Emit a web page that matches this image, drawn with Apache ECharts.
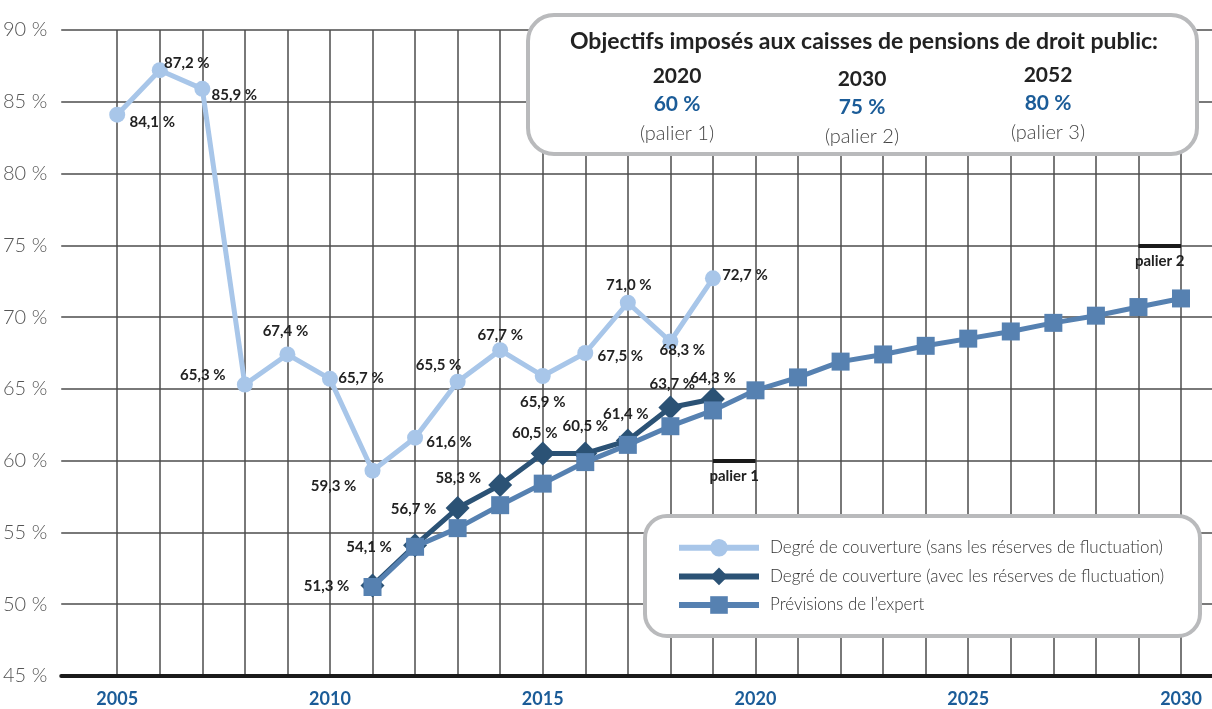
<!DOCTYPE html>
<html>
<head>
<meta charset="utf-8">
<script src="https://cdn.jsdelivr.net/npm/echarts@6/dist/echarts.min.js"></script>
<style>
html, body { margin: 0; padding: 0; background: #fff; }
#chart { width: 1212px; height: 709px; }
</style>
</head>
<body>
<div id="chart"></div>
<script>
// annees (une ligne verticale par annee)
const years = [2005, 2006, 2007, 2008, 2009, 2010, 2011, 2012, 2013, 2014, 2015, 2016, 2017,
  2018, 2019, 2020, 2021, 2022, 2023, 2024, 2025, 2026, 2027, 2028, 2029, 2030];
const xLabelYears = [2005, 2010, 2015, 2020, 2025, 2030];
const yTicks = [45, 50, 55, 60, 65, 70, 75, 80, 85, 90];

// 2005-2019
const sansReserves = [84.1, 87.2, 85.9, 65.3, 67.4, 65.7, 59.3, 61.6, 65.5, 67.7, 65.9, 67.5, 71.0, 68.3, 72.7];
// 2011-2019
const avecReserves = [51.3, 54.1, 56.7, 58.3, 60.5, 60.5, 61.4, 63.7, 64.3];
// 2011-2030
const previsions = [51.2, 54.0, 55.3, 56.9, 58.4, 59.9, 61.1, 62.4, 63.5, 64.9, 65.8, 66.9, 67.4,
  68.0, 68.5, 69.0, 69.6, 70.1, 70.7, 71.3];

const seriesNames = [
  'Degré de couverture (sans les réserves de fluctuation)',
  'Degré de couverture (avec les réserves de fluctuation)',
  'Prévisions de l\u2019expert'
];

// objectifs (encadre du haut)
const goalYears = ['2020', '2030', '2052'];
const goalValues = [60, 75, 80];
const goalSteps = ['(palier 1)', '(palier 2)', '(palier 3)'];
const palierYears = [2020, 2030];
const palierValues = [60, 75];
const palierNames = ['palier 1', 'palier 2'];

// decalage des etiquettes (px) par point
const sansOffsets = [[35, 7], [27, -7], [32, 6], [-42, -9], [-2, -23], [31, -1], [-39, 15], [34, 4],
  [-19, -17], [0, -15], [0, 26], [35, 3], [1, -18], [12, 9], [32, -3]];
const avecOffsets = [[-46, 1], [-46, 2], [-44, 1], [-42, -7], [-8, -20], [0, -27], [-2, -26], [2, -23], [0, -21]];

const FONT = 'Lato, "Open Sans", sans-serif';
const fmt = (v) => v.toFixed(1).replace('.', ',') + ' %';

const withLabels = (vals, firstYear, offsets) => vals.map((v, i) => ({
  value: [firstYear + i, v],
  label: { show: true, position: 'inside', offset: offsets[i], formatter: fmt(v) }
}));

const myChart = echarts.init(document.getElementById('chart'));

const goalCols = [677, 862, 1048];
const goalShift = [0, 3, -1];
const graphics = [
  { type: 'rect', z: 10, shape: { x: 528, y: 15, width: 669, height: 139, r: 26 },
    style: { fill: '#fff', stroke: '#b9babc', lineWidth: 4 } },
  { type: 'rect', z: 10, shape: { x: 645, y: 516, width: 555, height: 120, r: 22 },
    style: { fill: '#fff', stroke: '#b9babc', lineWidth: 4 } },
  { type: 'text', z: 11, x: 864, y: 42,
    style: { text: 'Objectifs imposés aux caisses de pensions de droit public:', textAlign: 'center',
      textVerticalAlign: 'middle', fontFamily: FONT, fontWeight: 'bold', fontSize: 23, fill: '#222' } }
];
goalYears.forEach((g, i) => {
  graphics.push(
    { type: 'text', z: 11, x: goalCols[i], y: 76 + goalShift[i],
      style: { text: g, textAlign: 'center', textVerticalAlign: 'middle', fontFamily: FONT,
        fontWeight: 'bold', fontSize: 21, fill: '#222' } },
    { type: 'text', z: 11, x: goalCols[i], y: 104 + goalShift[i],
      style: { text: goalValues[i] + ' %', textAlign: 'center', textVerticalAlign: 'middle', fontFamily: FONT,
        fontWeight: 'bold', fontSize: 21, fill: '#1b5c98' } },
    { type: 'text', z: 11, x: goalCols[i], y: 134 + goalShift[i],
      style: { text: goalSteps[i], textAlign: 'center', textVerticalAlign: 'middle', fontFamily: FONT,
        fontWeight: 300, fontSize: 20, fill: '#444' } }
  );
});

myChart.setOption({
  animation: false,
  backgroundColor: '#fff',
  grid: { left: 61, right: 0, top: 30, bottom: 33 },
  xAxis: {
    type: 'value',
    min: 2005 - 56 / 42.56,
    max: 2030 + 31 / 42.56,
    splitLine: { show: false },
    axisTick: { show: false },
    axisLine: { show: true, lineStyle: { color: '#1a1a1a', width: 4 } },
    axisLabel: {
      customValues: xLabelYears,
      formatter: (v) => String(v),
      margin: 14,
      color: '#1b5c98',
      fontFamily: FONT,
      fontWeight: 'bold',
      fontSize: 18
    }
  },
  yAxis: {
    type: 'value',
    min: yTicks[0],
    max: yTicks[yTicks.length - 1],
    interval: 5,
    axisLine: { show: false },
    axisTick: { show: false },
    splitLine: { lineStyle: { color: '#4d4d4d', width: 1.5 } },
    axisLabel: {
      formatter: '{value} %',
      margin: 14,
      color: '#555',
      fontFamily: FONT,
      fontWeight: 300,
      fontSize: 20
    }
  },
  legend: {
    orient: 'vertical',
    left: 676,
    top: 539,
    padding: 0,
    itemWidth: 80,
    itemHeight: 22,
    itemGap: 11,
    z: 20,
    lineStyle: { width: 6 },
    textStyle: { fontFamily: FONT, fontWeight: 300, fontSize: 17, color: '#333', padding: [0, 0, 0, 6] },
    data: seriesNames
  },
  graphic: graphics,
  series: [
    {
      // grille verticale
      type: 'line',
      z: 1,
      silent: true,
      data: [],
      markLine: {
        z: 0,
        silent: true,
        symbol: 'none',
        label: { show: false },
        lineStyle: { color: '#4d4d4d', width: 1.5, type: 'solid' },
        data: years.map((y) => ({ xAxis: y }))
      }
    },
    {
      name: seriesNames[0],
      type: 'line',
      z: 2,
      data: withLabels(sansReserves, 2005, sansOffsets),
      symbol: 'circle',
      symbolSize: 16,
      color: '#a8c6e9',
      lineStyle: { width: 5, color: '#a8c6e9' },
      itemStyle: { color: '#a8c6e9' },
      label: { color: '#222', fontFamily: FONT, fontWeight: 'bold', fontSize: 15 }
    },
    {
      name: seriesNames[1],
      type: 'line',
      z: 3,
      data: withLabels(avecReserves, 2011, avecOffsets),
      symbol: 'diamond',
      symbolSize: 24,
      color: '#2b5275',
      lineStyle: { width: 5, color: '#2b5275' },
      itemStyle: { color: '#2b5275' },
      label: { color: '#222', fontFamily: FONT, fontWeight: 'bold', fontSize: 15 }
    },
    {
      name: seriesNames[2],
      type: 'line',
      z: 4,
      data: previsions.map((v, i) => [2011 + i, v]),
      symbol: 'rect',
      symbolSize: 18,
      color: '#5681b1',
      lineStyle: { width: 5, color: '#5681b1' },
      itemStyle: { color: '#5681b1' },
      markLine: {
        silent: true,
        symbol: 'none',
        lineStyle: { color: '#1a1a1a', width: 4, type: 'solid' },
        label: {
          show: true,
          position: 'insideMiddleBottom',
          distance: 8,
          formatter: '{b}',
          color: '#222',
          fontFamily: FONT,
          fontWeight: 'bold',
          fontSize: 15
        },
        data: palierYears.map((y, i) => [
          { name: palierNames[i], coord: [y - 1, palierValues[i]] },
          { coord: [y, palierValues[i]] }
        ])
      }
    }
  ]
});
</script>
</body>
</html>
